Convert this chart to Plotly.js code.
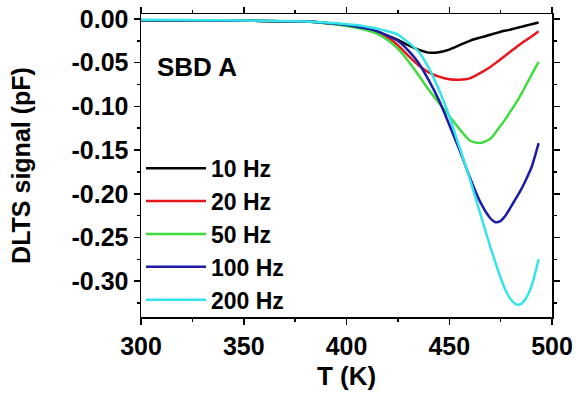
<!DOCTYPE html>
<html>
<head>
<meta charset="utf-8">
<script src="https://cdn.plot.ly/plotly-3.0.1.min.js"></script>
<style>html,body{margin:0;padding:0;background:#fff;}#chart{width:576px;height:400px;}</style>
</head>
<body>
<div id="chart"></div>
<script>
const temperature = [300,320,340,360,380,390,400,405,410,415,420,425,430,435,440,445,450,455,460,465,470,472.5,475,477.5,480,482.5,485,487.5,490,493.5];
const hz10  = [-0.0015,-0.0017,-0.002,-0.0022,-0.003,-0.0045,-0.007,-0.009,-0.012,-0.015,-0.019,-0.024,-0.030,-0.035,-0.0385,-0.038,-0.035,-0.030,-0.025,-0.0213,-0.018,-0.0163,-0.0146,-0.0133,-0.012,-0.0105,-0.009,-0.0075,-0.006,-0.004];
const hz20  = [-0.0015,-0.0017,-0.002,-0.0022,-0.003,-0.0045,-0.007,-0.009,-0.012,-0.016,-0.021,-0.030,-0.042,-0.053,-0.061,-0.066,-0.069,-0.0695,-0.068,-0.062,-0.055,-0.0505,-0.046,-0.0415,-0.037,-0.0325,-0.028,-0.024,-0.020,-0.014];
const hz50  = [-0.0015,-0.0017,-0.002,-0.0022,-0.003,-0.005,-0.008,-0.010,-0.013,-0.017,-0.024,-0.034,-0.048,-0.064,-0.081,-0.096,-0.111,-0.126,-0.139,-0.142,-0.137,-0.130,-0.122,-0.114,-0.105,-0.096,-0.086,-0.075,-0.064,-0.049];
const hz100 = [-0.0015,-0.0017,-0.002,-0.0022,-0.003,-0.0045,-0.007,-0.009,-0.011,-0.014,-0.019,-0.025,-0.036,-0.050,-0.070,-0.093,-0.121,-0.150,-0.181,-0.209,-0.228,-0.2325,-0.231,-0.2245,-0.215,-0.205,-0.195,-0.183,-0.170,-0.142];
const hz200 = [-0.001,-0.0013,-0.0015,-0.002,-0.0028,-0.004,-0.006,-0.007,-0.009,-0.011,-0.014,-0.018,-0.027,-0.037,-0.056,-0.081,-0.111,-0.147,-0.183,-0.222,-0.261,-0.279,-0.296,-0.311,-0.321,-0.3265,-0.326,-0.319,-0.306,-0.275];
const seriesNames = ['10 Hz','20 Hz','50 Hz','100 Hz','200 Hz'];
const seriesValues = [hz10, hz20, hz50, hz100, hz200];
const seriesColors = ['#000000','#e8161c','#3edc3e','#1c1ca6','#34e4ea'];
const xTickVals = [300,350,400,450,500];
const yTickVals = [0,-0.05,-0.10,-0.15,-0.20,-0.25,-0.30];
const yTickText = ['0.00','-0.05','-0.10','-0.15','-0.20','-0.25','-0.30'];

const FONT = 'Arial, "Liberation Sans", sans-serif';
const traces = seriesNames.map((n,i)=>({
  x: temperature, y: seriesValues[i], name: n, type: 'scatter', mode: 'lines',
  line: {color: seriesColors[i], width: 2.5, shape: 'spline', smoothing: 0.7}
}));

const axisCommon = {
  showline: true, linecolor: '#000', linewidth: 1.5, mirror: 'ticks',
  ticks: 'outside', ticklen: 6, tickwidth: 1.5, tickcolor: '#000',
  showgrid: false, zeroline: false,
  tickfont: {family: FONT, size: 25, color: '#000', weight: 'bold'}
};

const layout = {
  width: 576, height: 400,
  margin: {l: 141, r: 24, t: 14, b: 83},
  paper_bgcolor: '#fff', plot_bgcolor: '#fff',
  showlegend: true,
  legend: {x: 0.0, y: 0.562, xanchor: 'left', yanchor: 'top', bgcolor: 'rgba(0,0,0,0)',
           font: {family: FONT, size: 23, color: '#000', weight: 'bold'}, itemwidth: 60, tracegroupgap: 0},
  xaxis: Object.assign({}, axisCommon, {
    range: [300, 500], tickvals: xTickVals,
    minor: {dtick: 25, ticks: 'outside', ticklen: 3, tickwidth: 1.5, tickcolor: '#000'},
    title: {text: 'T (K)', font: {family: FONT, size: 26, color: '#000', weight: 'bold'}, standoff: 8}
  }),
  yaxis: Object.assign({}, axisCommon, {
    range: [-0.341, 0.0057], tickvals: yTickVals, ticktext: yTickText,
    minor: {dtick: 0.025, ticks: 'outside', ticklen: 3, tickwidth: 1.5, tickcolor: '#000'},
    title: {text: 'DLTS signal (pF)', font: {family: FONT, size: 25, color: '#000', weight: 'bold'}, standoff: 34}
  }),
  annotations: [{
    text: 'SBD A', xref: 'paper', yref: 'paper', x: 0.034, y: 0.825, xanchor: 'left', yanchor: 'middle',
    showarrow: false, font: {family: FONT, size: 26, color: '#000', weight: 'bold'}
  }]
};

Plotly.newPlot('chart', traces, layout, {staticPlot: true, displayModeBar: false});
</script>
</body>
</html>
